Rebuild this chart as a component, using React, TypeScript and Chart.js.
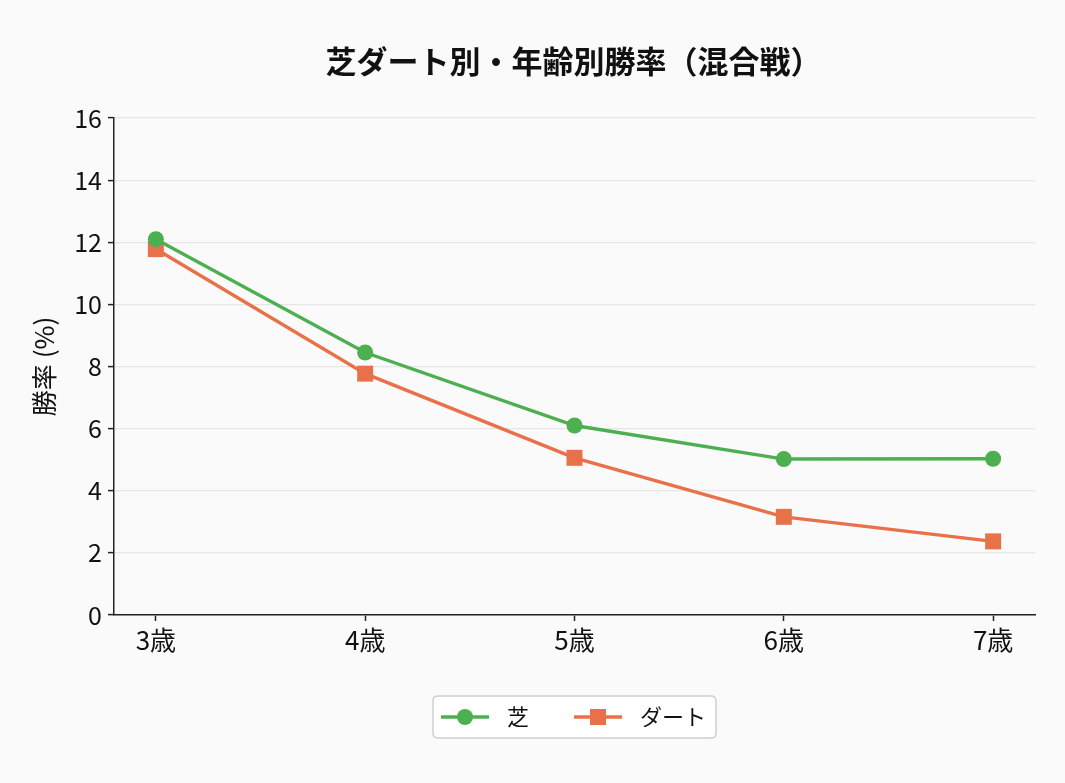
import React, { useEffect, useRef } from "react";
import { Chart, registerables } from "chart.js";

Chart.register(...registerables);

// Age categories and win rates (%) by surface
const ageLabels = ["3歳", "4歳", "5歳", "6歳", "7歳"];
const turfWinRate = [12.1, 8.45, 6.1, 5.02, 5.03];
const dirtWinRate = [11.78, 7.77, 5.06, 3.16, 2.37];
const yTicks = [0, 2, 4, 6, 8, 10, 12, 14, 16];

const titleText = "芝ダート別・年齢別勝率（混合戦）";
const yAxisTitle = "勝率 (%)";
const turfName = "芝";
const dirtName = "ダート";

const GREEN = "#4caf50";
const ORANGE = "#e8714a";
const FONT = '"Noto Sans CJK JP", "Noto Sans", sans-serif';

// Title, rotated y-axis title and the legend, all drawn on the canvas
const decorations = {
  id: "decorations",
  afterDraw(chart: any) {
    const { ctx, chartArea } = chart;
    ctx.save();
    // title, centered over the plot area
    ctx.fillStyle = "#111";
    ctx.font = `bold 31px ${FONT}`;
    ctx.textAlign = "center";
    ctx.textBaseline = "middle";
    ctx.fillText(titleText, (chartArea.left + chartArea.right) / 2 - 1, 61);

    // y-axis title
    ctx.save();
    ctx.translate(44, (chartArea.top + chartArea.bottom) / 2);
    ctx.rotate(-Math.PI / 2);
    ctx.font = `26px ${FONT}`;
    ctx.fillStyle = "#111";
    ctx.fillText(yAxisTitle, 0, 0);
    ctx.restore();

    // legend box
    const bx = 433, by = 696, bw = 283, bh = 42, r = 5;
    ctx.beginPath();
    ctx.moveTo(bx + r, by);
    ctx.lineTo(bx + bw - r, by);
    ctx.quadraticCurveTo(bx + bw, by, bx + bw, by + r);
    ctx.lineTo(bx + bw, by + bh - r);
    ctx.quadraticCurveTo(bx + bw, by + bh, bx + bw - r, by + bh);
    ctx.lineTo(bx + r, by + bh);
    ctx.quadraticCurveTo(bx, by + bh, bx, by + bh - r);
    ctx.lineTo(bx, by + r);
    ctx.quadraticCurveTo(bx, by, bx + r, by);
    ctx.closePath();
    ctx.fillStyle = "#ffffff";
    ctx.fill();
    ctx.strokeStyle = "#d0d0d0";
    ctx.lineWidth = 1.5;
    ctx.stroke();

    const cy = by + bh / 2;
    const entries = [
      { x: 441, color: GREEN, shape: "circle", label: turfName, tx: 507 },
      { x: 574, color: ORANGE, shape: "square", label: dirtName, tx: 640 },
    ];
    for (const e of entries) {
      ctx.strokeStyle = e.color;
      ctx.lineWidth = 3.4;
      ctx.beginPath();
      ctx.moveTo(e.x, cy);
      ctx.lineTo(e.x + 48, cy);
      ctx.stroke();
      ctx.fillStyle = e.color;
      const mx = e.x + 24;
      if (e.shape === "circle") {
        ctx.beginPath();
        ctx.arc(mx, cy, 8, 0, Math.PI * 2);
        ctx.fill();
      } else {
        ctx.fillRect(mx - 8, cy - 8, 16, 16);
      }
      ctx.fillStyle = "#111";
      ctx.font = `22px ${FONT}`;
      ctx.textAlign = "left";
      ctx.textBaseline = "middle";
      ctx.fillText(e.label, e.tx, cy);
    }
    ctx.restore();
  },
};

export default function App() {
  const canvasRef = useRef<HTMLCanvasElement | null>(null);

  useEffect(() => {
    if (!canvasRef.current) return;
    const chart = new Chart(canvasRef.current, {
      type: "line",
      data: {
        datasets: [
          {
            label: turfName,
            data: turfWinRate.map((v, i) => ({ x: i, y: v })),
            borderColor: GREEN,
            backgroundColor: GREEN,
            borderWidth: 3.4,
            pointStyle: "circle",
            pointRadius: 8,
            pointBorderWidth: 0,
            pointHoverRadius: 8,
          },
          {
            label: dirtName,
            data: dirtWinRate.map((v, i) => ({ x: i, y: v })),
            borderColor: ORANGE,
            backgroundColor: ORANGE,
            borderWidth: 3.4,
            pointStyle: "rect",
            pointRadius: 11.3,
            pointBorderWidth: 0,
            pointHoverRadius: 11.3,
          },
        ],
      },
      options: {
        animation: false,
        responsive: false,
        maintainAspectRatio: false,
        layout: { padding: { left: 0, right: 30, top: 118, bottom: 108 } },
        plugins: {
          legend: { display: false },
          title: { display: false },
          tooltip: { enabled: false },
        },
        scales: {
          x: {
            type: "linear",
            min: -0.2,
            max: 4.2,
            afterBuildTicks: (scale: any) => {
              scale.ticks = ageLabels.map((_, i) => ({ value: i }));
            },
            afterFit: (scale: any) => {
              scale.height = 60;
            },
            ticks: {
              color: "#111",
              font: { family: FONT, size: 26 },
              padding: 4,
              maxRotation: 0,
              callback: (v: any) => ageLabels[v as number] ?? "",
            },
            grid: {
              drawOnChartArea: false,
              drawTicks: true,
              tickLength: 6,
              tickWidth: 1.5,
              tickColor: "#222",
            },
            border: { display: true, color: "#222", width: 1.5 },
          },
          y: {
            min: 0,
            max: 16,
            afterBuildTicks: (scale: any) => {
              scale.ticks = yTicks.map((v) => ({ value: v }));
            },
            afterFit: (scale: any) => {
              scale.width = 114;
            },
            ticks: {
              color: "#111",
              font: { family: FONT, size: 25 },
              padding: 6,
            },
            grid: {
              color: "#e6e6e6",
              lineWidth: 1.2,
              drawTicks: true,
              tickLength: 6,
              tickWidth: 1.5,
              tickColor: "#222",
            },
            border: { display: true, color: "#222", width: 1.5 },
          },
        },
      },
      plugins: [decorations],
    });
    return () => chart.destroy();
  }, []);

  return (
    <div
      style={{
        position: "fixed",
        left: 0,
        top: 0,
        width: 1065,
        height: 783,
        background: "#fafafa",
      }}
    >
      <canvas ref={canvasRef} width={1065} height={783} style={{ display: "block" }} />
    </div>
  );
}
